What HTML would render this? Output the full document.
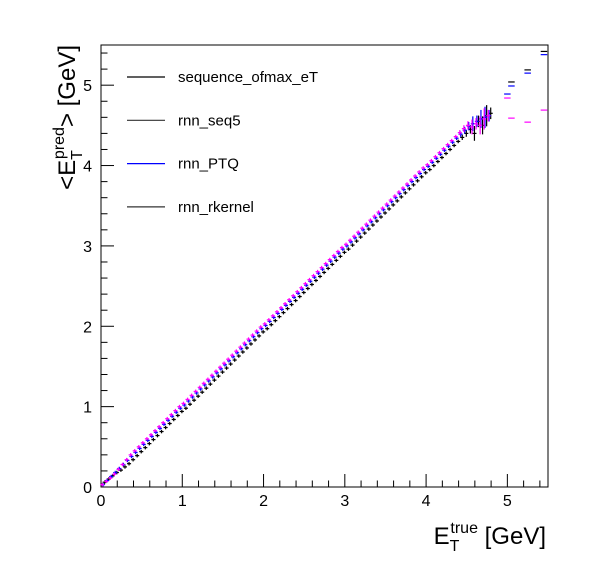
<!DOCTYPE html>
<html><head><meta charset="utf-8"><style>
body{margin:0;background:#fff}
svg{display:block;font-family:"Liberation Sans",sans-serif}
</style></head><body>
<svg id="c" width="596" height="572"></svg>
<script>
const binWidth=0.05;
const blueVals=[0.03,0.08,0.13,0.18,0.23,0.28,0.33,0.38,0.43,0.48,0.53,0.58,0.63,0.68,0.73,0.78,0.83,0.88,0.93,0.98,1.02,1.07,1.12,1.17,1.22,1.27,1.32,1.37,1.42,1.47,1.52,1.57,1.62,1.67,1.72,1.77,1.82,1.87,1.92,1.97,2.01,2.06,2.11,2.16,2.21,2.26,2.31,2.36,2.41,2.46,2.51,2.56,2.61,2.66,2.71,2.76,2.81,2.86,2.91,2.96,3.00,3.05,3.10,3.15,3.20,3.25,3.30,3.35,3.40,3.45,3.50,3.55,3.60,3.65,3.70,3.75,3.80,3.85,3.90,3.95,3.99,4.04,4.09,4.14,4.19,4.24,4.29,4.34,4.39,4.44,4.49,4.52,4.55,4.58,4.60,4.62];
const magentaVals=[0.03,0.07,0.11,0.16,0.22,0.28,0.34,0.40,0.45,0.50,0.55,0.60,0.65,0.70,0.75,0.80,0.85,0.90,0.95,1.00,1.04,1.09,1.14,1.19,1.24,1.29,1.34,1.39,1.44,1.49,1.54,1.59,1.64,1.69,1.74,1.79,1.84,1.89,1.94,1.99,2.03,2.08,2.13,2.18,2.23,2.28,2.33,2.38,2.43,2.48,2.53,2.58,2.63,2.68,2.73,2.78,2.83,2.88,2.93,2.98,3.02,3.07,3.12,3.17,3.22,3.27,3.32,3.37,3.42,3.47,3.52,3.57,3.62,3.67,3.72,3.77,3.82,3.87,3.92,3.97,4.01,4.06,4.11,4.16,4.21,4.26,4.31,4.36,4.41,4.46,4.50,4.48,4.52,4.50,4.58,4.62];
const blackVals=[0.06,0.10,0.14,0.18,0.21,0.25,0.29,0.34,0.39,0.44,0.49,0.54,0.59,0.64,0.69,0.74,0.79,0.84,0.89,0.94,0.98,1.03,1.08,1.13,1.18,1.23,1.28,1.33,1.38,1.43,1.48,1.53,1.58,1.63,1.68,1.73,1.78,1.83,1.88,1.93,1.97,2.02,2.07,2.12,2.17,2.22,2.27,2.32,2.37,2.42,2.47,2.52,2.57,2.62,2.67,2.72,2.77,2.82,2.87,2.92,2.96,3.01,3.06,3.11,3.16,3.21,3.26,3.31,3.36,3.41,3.46,3.51,3.56,3.61,3.66,3.71,3.76,3.81,3.86,3.91,3.95,4.00,4.05,4.10,4.15,4.20,4.25,4.30,4.35,4.40,4.45,4.40,4.55,4.50,4.62,4.65];
const errVals=[0.01,0.01,0.01,0.01,0.01,0.01,0.01,0.01,0.01,0.01,0.01,0.01,0.01,0.01,0.01,0.01,0.01,0.01,0.01,0.01,0.01,0.01,0.01,0.01,0.01,0.01,0.01,0.01,0.01,0.01,0.01,0.01,0.01,0.01,0.01,0.01,0.01,0.01,0.01,0.01,0.01,0.01,0.01,0.01,0.01,0.01,0.01,0.01,0.01,0.01,0.01,0.01,0.01,0.01,0.01,0.01,0.01,0.01,0.01,0.01,0.01,0.01,0.01,0.01,0.01,0.01,0.01,0.01,0.01,0.01,0.01,0.01,0.01,0.01,0.01,0.01,0.01,0.01,0.01,0.01,0.01,0.01,0.01,0.01,0.01,0.01,0.01,0.01,0.02,0.03,0.04,0.08,0.06,0.10,0.12,0.06];
const outX=[5.05,5.25,5.45];
const outBlack=[5.04,5.19,5.42];
const outBlue=[4.99,5.15,5.38];
const outBlue2=[4.89];
const outMagenta=[4.59,4.54,4.69];
const outMagenta2=[4.84];
const xTicks=[0,1,2,3,4,5];
const yTicks=[0,1,2,3,4,5];
const legendLabels=["sequence_ofmax_eT","rnn_seq5","rnn_PTQ","rnn_rkernel"];
const legendColors=["#000","#333","#00f","#333"];

const X0=101,X1=548,Y0=487,Y1=45,XMAX=5.5,YMAX=5.5;
const sx=v=>X0+v/XMAX*(X1-X0), sy=v=>Y0-v/YMAX*(Y0-Y1);
const svg=document.getElementById('c');const NS='http://www.w3.org/2000/svg';
function mk(t,a,p){const e=document.createElementNS(NS,t);for(const k in a)e.setAttribute(k,a[k]);(p||svg).appendChild(e);return e;}
const frame=mk('rect',{x:X0,y:Y1,width:X1-X0,height:Y0-Y1,fill:'none',stroke:'#000','stroke-width':1});


for(let i=0;i<=27;i++){const v=i*0.2;const x=sx(v);const major=Math.abs(v-Math.round(v))<1e-6;
 const t=mk('line',{x1:x,x2:x,y1:Y0,y2:Y0-(major?13:6.5),stroke:'#000'});
 
 
 const y=sy(v);const u=mk('line',{x1:X0,x2:X0+(major?13:6.5),y1:y,y2:y,stroke:'#000'});
 
 }
xTicks.forEach(v=>{const t=mk('text',{x:sx(v),y:Y0+19,'font-size':16,'text-anchor':'middle'});t.textContent=v;
 
 });
yTicks.forEach(v=>{const t=mk('text',{x:X0-9,y:sy(v)+6,'font-size':16,'text-anchor':'end'});t.textContent=v;
 
 });
const xt=mk('text',{x:546,y:544,'font-size':24,'text-anchor':'end'});
xt.innerHTML='E<tspan font-size="16" dy="7">T</tspan><tspan font-size="16" dx="-9" dy="-18">true</tspan><tspan dy="11"> [GeV]</tspan>';


const yt=mk('text',{transform:'translate(75,45) rotate(-90)','font-size':24,'text-anchor':'end'});
yt.innerHTML='&lt;E<tspan font-size="16" dy="7">T</tspan><tspan font-size="16" dx="-9" dy="-18">pred</tspan><tspan dy="11">&gt; [GeV]</tspan>';


function series(vals,color,dx,name){const g=mk('g',{stroke:color,'stroke-width':1.2});
 
 
 vals.forEach((v,i)=>{const xc=binWidth*(i+0.5)+dx;const y=sy(v);
  const h=mk('line',{x1:sx(xc-binWidth/2),x2:sx(xc+binWidth/2),y1:y,y2:y},g);
  
  
  const e=errVals[i];const vv=mk('line',{x1:sx(xc),x2:sx(xc),y1:sy(v-e-0.012),y2:sy(v+e+0.012)},g);
  
  });}
series(blackVals,'#000',0.02,'series-sequence-ofmax-eT');
series(blueVals,'#00f',0,'series-rnn-PTQ');
series(magentaVals,'#f0f',-0.01,'series-rnn-rkernel');
function outl(xs,vals,color,name){vals.forEach((v,i)=>{const y=sy(v);
 const l=mk('line',{x1:sx(xs[i]-0.04),x2:sx(xs[i]+0.04),y1:y,y2:y,stroke:color,'stroke-width':1.2});
 
 });}
outl(outX,outBlack,'#000','outlier-black');
outl(outX,outBlue,'#00f','outlier-blue');
outl([5.0],outBlue2,'#00f','outlier-blue');
outl(outX,outMagenta,'#f0f','outlier-magenta');
outl([5.0],outMagenta2,'#f0f','outlier-magenta');
const lg=mk('g',{});


mk('rect',{x:120,y:57,width:210,height:178,fill:'#fff'},lg);
legendLabels.forEach((s,i)=>{const y=77+i*43.3;
 const l=mk('line',{x1:127,x2:165,y1:y,y2:y,stroke:legendColors[i],'stroke-width':1.2},lg);
 
 
 const t=mk('text',{x:178,y:y+5,'font-size':15},lg);t.textContent=s;
 
 });
</script>
</body></html>
